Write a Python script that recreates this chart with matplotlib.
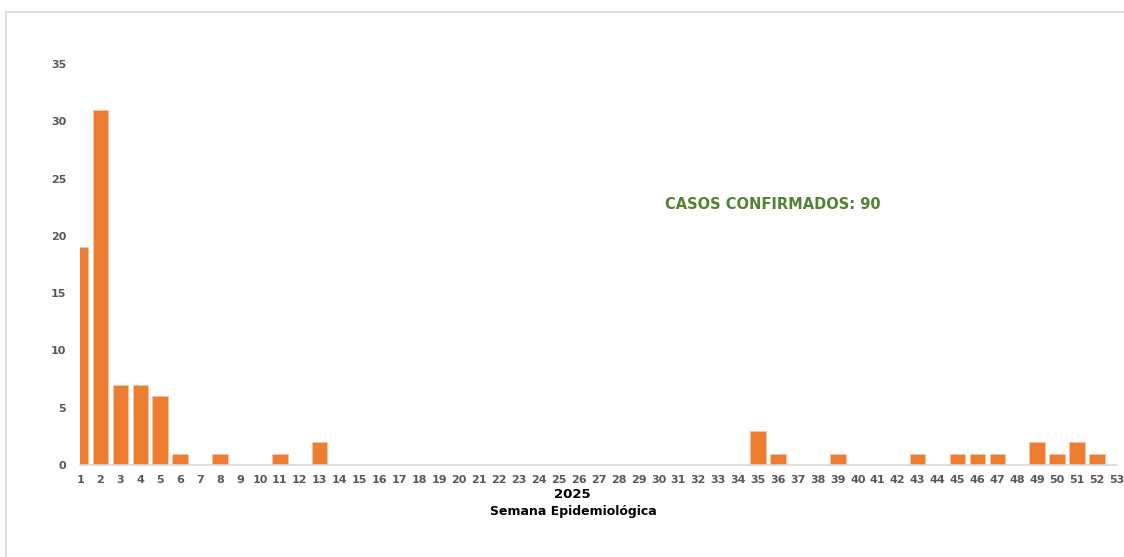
import matplotlib
matplotlib.use("Agg")
import matplotlib.pyplot as plt
from matplotlib.lines import Line2D

weeks = list(range(1, 54))
cases = [19, 31, 7, 7, 6, 1, 0, 1, 0, 0, 1, 0, 2, 0, 0, 0, 0, 0, 0, 0,
         0, 0, 0, 0, 0, 0, 0, 0, 0, 0, 0, 0, 0, 0, 3, 1, 0, 0, 1, 0,
         0, 0, 1, 0, 1, 1, 1, 0, 2, 1, 2, 1, 0]
y_ticks = [0, 5, 10, 15, 20, 25, 30, 35]
annotation = "CASOS CONFIRMADOS: 90"
year_label = "2025"
x_title = "Semana Epidemiológica"

W, H = 1124, 557
fig = plt.figure(figsize=(W / 100, H / 100), dpi=100)
fig.patch.set_facecolor("white")

# light frame lines (top and left)
fig.add_artist(Line2D([6 / W, 1], [1 - 12 / H, 1 - 12 / H], color="#d9d9d9", lw=1.2))
fig.add_artist(Line2D([6 / W, 6 / W], [0, 1 - 12 / H], color="#d9d9d9", lw=1.2))

ax = fig.add_axes([80 / W, 1 - 465 / H, (1117 - 80) / W, (465 - 64) / H])
ax.bar(weeks, cases, width=0.78, color="#ED7D31", edgecolor="#f6c5a4", linewidth=0.6, zorder=2)
ax.set_xlim(0.975, 53.0)
ax.set_ylim(0, 35)
ax.set_yticks(y_ticks)
ax.set_xticks(weeks)
ax.set_xticklabels([str(w) for w in weeks])
for s in ["top", "right", "left"]:
    ax.spines[s].set_visible(False)
ax.spines["bottom"].set_color("#d9d9d9")
ax.spines["bottom"].set_linewidth(1.2)
ax.tick_params(axis="both", length=0, colors="#595959", labelsize=8)
ax.tick_params(axis="y", pad=10)
ax.tick_params(axis="x", pad=7)
for lab in ax.get_xticklabels() + ax.get_yticklabels():
    lab.set_fontfamily("DejaVu Sans")
    lab.set_fontweight("bold")

fig.text(572 / W, 1 - 494 / H, year_label, ha="center", va="center",
         fontsize=9.5, fontweight="bold", family="DejaVu Sans", color="#000000")
fig.text(573 / W, 1 - 512 / H, x_title, ha="center", va="center",
         fontsize=9, fontweight="bold", family="DejaVu Sans", color="#000000")
fig.text(773 / W, 1 - 205 / H, annotation, ha="center", va="center",
         fontsize=10.5, fontweight="bold", family="DejaVu Sans", color="#548235")

fig.savefig("out.png", dpi=100, facecolor="white")
